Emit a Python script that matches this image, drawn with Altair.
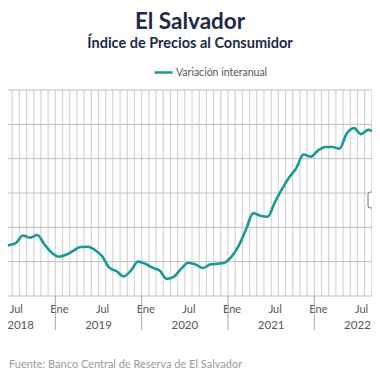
import altair as alt
import pandas as pd

# ---- data ----
meses = ["2018-03", "2018-04", "2018-05", "2018-06", "2018-07", "2018-08", "2018-09", "2018-10",
         "2018-11", "2018-12", "2019-01", "2019-02", "2019-03", "2019-04", "2019-05", "2019-06",
         "2019-07", "2019-08", "2019-09", "2019-10", "2019-11", "2019-12", "2020-01", "2020-02",
         "2020-03", "2020-04", "2020-05", "2020-06", "2020-07", "2020-08", "2020-09", "2020-10",
         "2020-11", "2020-12", "2021-01", "2021-02", "2021-03", "2021-04", "2021-05", "2021-06",
         "2021-07", "2021-08", "2021-09", "2021-10", "2021-11", "2021-12", "2022-01", "2022-02",
         "2022-03", "2022-04", "2022-05", "2022-06", "2022-07", "2022-08", "2022-09", "2022-10"]
variacion = [0.95, 0.88, 0.89, 0.96, 1.08, 1.52, 1.40, 1.55,
             1.00, 0.52, 0.29, 0.40, 0.63, 0.85, 0.87, 0.68,
             0.32, -0.35, -0.55, -0.86, -0.52, 0.00, -0.12, -0.35,
             -0.52, -1.00, -0.87, -0.41, -0.06, -0.17, -0.37, -0.17,
             -0.12, -0.06, 0.29, 0.93, 1.87, 2.83, 2.68, 2.62,
             3.44, 4.23, 4.90, 5.45, 6.24, 6.12, 6.47, 6.68,
             6.68, 6.58, 7.45, 7.78, 7.43, 7.68, 7.52, 7.28]
serie = "Variación interanual"
anios = ["2018", "2019", "2020", "2021", "2022"]
etiquetas_mes = ["Ene", "Abr", "Jul", "Oct"]
titulo = "El Salvador"
subtitulo = "Índice de Precios al Consumidor"
fuente = "Fuente: Banco Central de Reserva de El Salvador"
y_ticks = [-2, 0, 2, 4, 6, 8, 10]

FONT = "Lato"
TEAL = "#179a95"


def month_index(s):
    y, m = s.split("-")
    return (int(y) - 2018) * 12 + int(m) - 1


df = pd.DataFrame({
    "t": [month_index(m) + 0.5 for m in meses],
    "valor": variacion,
    "serie": [serie] * len(meses),
})

x_domain = [5.421, 56.02]
x_scale = alt.Scale(domain=x_domain, nice=False, zero=False)
y_scale = alt.Scale(domain=[-2, 10], nice=False, zero=False)

label_vals = [t + 0.5 for t in range(0, 60) if t % 3 == 0 and x_domain[0] < t + 0.5 < x_domain[1]]
label_expr = "['" + "','".join(etiquetas_mes) + "'][floor((datum.value % 12) / 3)]"

x_axis = alt.Axis(values=label_vals, labelExpr=label_expr, title=None, grid=False, ticks=False,
                  domain=False, labelPadding=7, labelFont=FONT, labelFontSize=11,
                  labelColor="#555555", labelFlush=False, labelOverlap=False)

# month gridlines (band edges)
grid_df = pd.DataFrame({"t": list(range(0, 60))})
grid = alt.Chart(grid_df).mark_rule(color="#d4d4d4", strokeWidth=1.2, clip=True).encode(
    x=alt.X("t:Q", scale=x_scale, axis=x_axis),
    y=alt.value(0), y2=alt.value(206),
)

# horizontal gridlines
hgrid = alt.Chart(pd.DataFrame({"v": y_ticks})).mark_rule(color="#bdbdbd", strokeWidth=1).encode(
    y=alt.Y("v:Q", scale=y_scale, axis=None),
    x=alt.value(0), x2=alt.value(364),
)

# year separators below the axis
sep_df = pd.DataFrame({"t": [12 * k for k in range(1, len(anios))]})
seps = alt.Chart(sep_df).mark_rule(color="#a8a8a8", strokeWidth=1).encode(
    x=alt.X("t:Q", scale=x_scale),
    y=alt.value(206), y2=alt.value(240),
)

# year labels (first one nudged inside the visible area)
year_pos = [max(12 * k + 6, x_domain[0] + 1.75) for k in range(len(anios))]
year_df = pd.DataFrame({"t": year_pos, "anio": anios})
years = alt.Chart(year_df).mark_text(font=FONT, fontSize=11.5, color="#555555",
                                     baseline="middle", align="center").encode(
    x=alt.X("t:Q", scale=x_scale),
    y=alt.value(236),
    text="anio:N",
)

line = alt.Chart(df).mark_line(strokeWidth=2.6, interpolate="monotone", clip=True).encode(
    x=alt.X("t:Q", scale=x_scale),
    y=alt.Y("valor:Q", scale=y_scale),
    color=alt.Color("serie:N", scale=alt.Scale(range=[TEAL]),
                    legend=alt.Legend(orient="none", legendX=145, legendY=-28, title=None,
                                      symbolType="stroke", symbolSize=324, symbolStrokeWidth=2.5,
                                      labelFont=FONT, labelFontSize=10.5, labelColor="#555555",
                                      labelOffset=2)),
)

title_df = pd.DataFrame({"txt": [titulo]})
title = alt.Chart(title_df).mark_text(font=FONT, fontSize=22.5, fontWeight="bold", color="#1c2a48",
                                      align="center", baseline="alphabetic").encode(
    x=alt.value(182), y=alt.value(-61), text="txt:N")

sub_df = pd.DataFrame({"txt": [subtitulo]})
subtitle = alt.Chart(sub_df).mark_text(font=FONT, fontSize=14.5, fontWeight="bold", color="#1c2a48",
                                       align="center", baseline="alphabetic").encode(
    x=alt.value(182), y=alt.value(-42), text="txt:N")

src_df = pd.DataFrame({"txt": [fuente]})
source = alt.Chart(src_df).mark_text(font=FONT, fontSize=11, color="#9a9a9a",
                                     align="left", baseline="alphabetic").encode(
    x=alt.value(1), y=alt.value(278), text="txt:N")

box_df = pd.DataFrame({"txt": ["M"]})
box = alt.Chart(box_df).mark_rect(fill="white", stroke="#8a8a8a", strokeWidth=1.2,
                                  cornerRadius=3).encode(
    x=alt.value(360), x2=alt.value(400), y=alt.value(102), y2=alt.value(118))

chart = alt.layer(grid, hgrid, seps, line, years, title, subtitle, source, box).properties(
    width=364, height=206,
    autosize=alt.AutoSizeParams(type="none"),
    padding={"left": 0, "right": 0, "top": 82, "bottom": 76},
).configure_view(strokeWidth=0)

chart.save("out.html", embed_options={"renderer": "svg", "actions": False})
